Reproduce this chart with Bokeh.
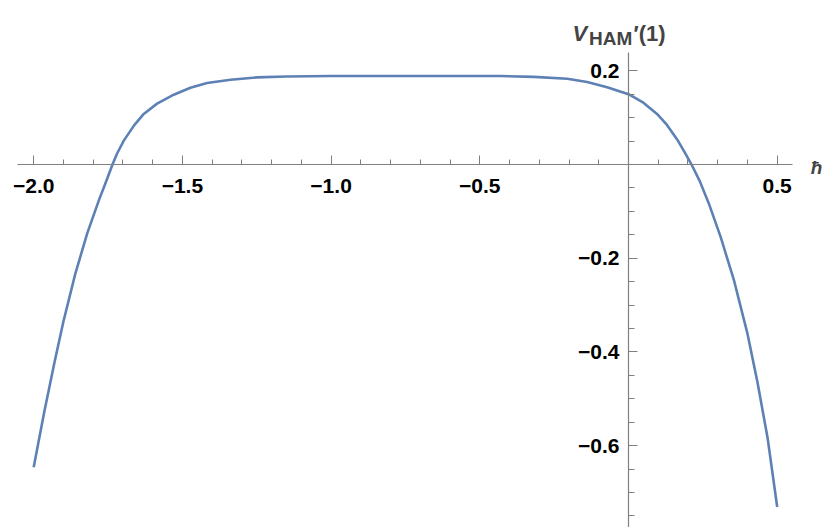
from bokeh.plotting import figure
from bokeh.models import Range1d, LinearAxis, FixedTicker, Label
from bokeh.embed import file_html
from bokeh.resources import INLINE

# Data
hbar = [-2.00, -1.965, -1.93, -1.90, -1.86, -1.82, -1.78, -1.76, -1.735, -1.72,
        -1.697, -1.663, -1.63, -1.585, -1.529, -1.473, -1.417, -1.338, -1.249, -1.15,
        -1.00, -0.80, -0.60, -0.43, -0.318, -0.206, -0.139, -0.072, 0.00, 0.05,
        0.096, 0.13, 0.164, 0.19, 0.212, 0.24, 0.27, 0.31, 0.355, 0.40,
        0.434, 0.468, 0.50]
v_ham = [-0.646, -0.530, -0.422, -0.335, -0.233, -0.147, -0.075, -0.042, 0.000, 0.023,
         0.051, 0.083, 0.108, 0.130, 0.149, 0.164, 0.174, 0.181, 0.186, 0.188,
         0.189, 0.189, 0.189, 0.189, 0.187, 0.183, 0.176, 0.165, 0.150, 0.132,
         0.108, 0.084, 0.053, 0.025, 0.000, -0.036, -0.083, -0.155, -0.248, -0.361,
         -0.466, -0.585, -0.731]

x_major = [-2.0, -1.5, -1.0, -0.5, 0.5]
x_labels = ["\u22122.0", "\u22121.5", "\u22121.0", "\u22120.5", "0.5"]
x_minor = [-1.9, -1.8, -1.7, -1.6, -1.4, -1.3, -1.2, -1.1, -0.9, -0.8, -0.7, -0.6,
           -0.4, -0.3, -0.2, -0.1, 0.1, 0.2, 0.3, 0.4]
y_major = [-0.6, -0.4, -0.2, 0.2]
y_labels = ["\u22120.6", "\u22120.4", "\u22120.2", "0.2"]
y_minor = [-0.75, -0.7, -0.65, -0.55, -0.5, -0.45, -0.35, -0.3, -0.25, -0.15,
           -0.1, -0.05, 0.05, 0.1, 0.15]

AXIS_COL = "#808080"
FONT = "Liberation Sans"

p = figure(width=827, height=527,
           x_range=Range1d(-2.1116, 0.6691), y_range=Range1d(-0.7748, 0.3501),
           x_axis_type=None, y_axis_type=None,
           min_border_left=0, min_border_right=0, min_border_top=0, min_border_bottom=0,
           output_backend="svg", toolbar_location=None)
p.outline_line_color = None
p.xgrid.visible = False
p.ygrid.visible = False
p.background_fill_color = "white"
p.border_fill_color = "white"

xaxis = LinearAxis(fixed_location=0, bounds=(-2.054, 0.551),
                   ticker=FixedTicker(ticks=x_major, minor_ticks=x_minor))
xaxis.major_label_overrides = dict(zip(x_major, x_labels))
yaxis = LinearAxis(fixed_location=0, bounds=(-0.7748, 0.239),
                   ticker=FixedTicker(ticks=y_major, minor_ticks=y_minor))
yaxis.major_label_overrides = dict(zip(y_major, y_labels))

for ax, mi in ((xaxis, 5), (yaxis, 6)):
    ax.axis_line_color = AXIS_COL
    ax.axis_line_width = 1.2
    ax.major_tick_line_color = AXIS_COL
    ax.minor_tick_line_color = AXIS_COL
    ax.major_tick_in = 9
    ax.major_tick_out = 0
    ax.minor_tick_in = mi
    ax.minor_tick_out = 0
    ax.major_label_text_font = FONT
    ax.major_label_text_font_style = "bold"
    ax.major_label_text_font_size = "21px"
    ax.major_label_text_color = "black"
xaxis.major_label_standoff = 14
yaxis.major_label_standoff = 9

p.add_layout(xaxis, "below")
p.add_layout(yaxis, "left")

p.line(hbar, v_ham, line_color="#5E81B5", line_width=2.6)

p.add_layout(Label(x=0.613, y=-0.0064, text="\u0127", text_font=FONT,
                   text_font_style="bold italic", text_font_size="19px",
                   text_baseline="alphabetic", text_align="left"))
p.add_layout(Label(x=-0.188, y=0.2796, text="V", text_font=FONT,
                   text_font_style="bold italic", text_font_size="22px",
                   text_baseline="alphabetic", text_align="left"))
p.add_layout(Label(x=-0.1328, y=0.2683, text="HAM", text_font=FONT,
                   text_font_style="bold", text_font_size="19px",
                   text_baseline="alphabetic", text_align="left"))
p.add_layout(Label(x=0.0168, y=0.2796, text="\u2032(1)", text_font=FONT,
                   text_font_style="bold", text_font_size="22px",
                   text_baseline="alphabetic", text_align="left"))

open("out.html", "w").write(file_html(p, INLINE))
